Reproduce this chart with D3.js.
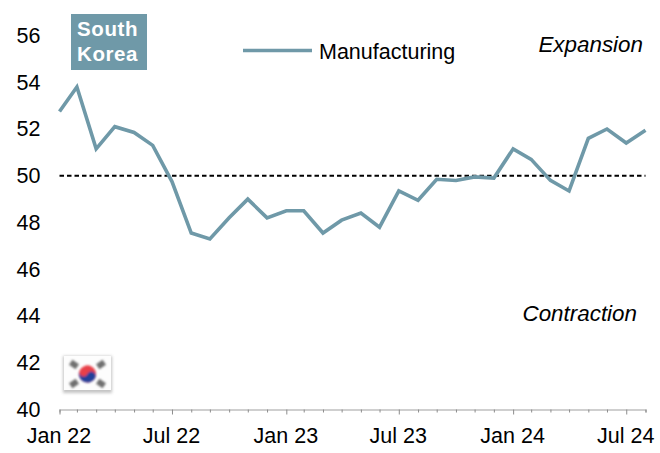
<!DOCTYPE html>
<html>
<head>
<meta charset="utf-8">
<script src="https://cdn.jsdelivr.net/npm/d3@7"></script>
<style>
  body { margin: 0; background: #fff; }
  svg { display: block; }
  text { font-family: "Liberation Sans", Arial, sans-serif; }
</style>
</head>
<body>
<div id="chart"></div>
<script>
// month-end dates, Jan 22 to Aug 24
let months = d3.range(0, 32).map(function(i) {
  return new Date(Date.UTC(2022, i + 1, 0));
});

let manufacturing = [
  52.75, 53.8, 51.15, 52.1, 51.85, 51.3, 49.75, 47.55, 47.3, 48.2, 49.0, 48.2,
  48.5, 48.5, 47.55, 48.1, 48.4, 47.8, 49.35, 48.95, 49.85, 49.8, 49.95, 49.9,
  51.15, 50.7, 49.8, 49.35, 51.6, 52.0, 51.4, 51.95
];

let yTicks = [40, 42, 44, 46, 48, 50, 52, 54, 56];
let xLabelEvery = 6;
let threshold = 50;

let seriesName = "Manufacturing";
let countryLines = ["South", "Korea"];
let expansionLabel = "Expansion";
let contractionLabel = "Contraction";

let lineColor = "#6f99a8";
let fontSize = "21.5";
let italicSize = "22.4";

let width = 660, height = 453;

let svg = d3.select("#chart").append("svg")
  .attr("width", width)
  .attr("height", height);

let x = d3.scaleUtc()
  .domain([months[0], months[months.length - 1]])
  .range([59.5, 645.5]);

let y = d3.scaleLinear()
  .domain([40, 56])
  .range([409.5, 35.5]);

let formatMonth = d3.utcFormat("%b %y");

// y labels only, the axis line and ticks are hidden in the original
let yAxis = svg.append("g")
  .attr("transform", "translate(59.5,0)")
  .call(d3.axisLeft(y).tickValues(yTicks).tickSize(0).tickPadding(19));
yAxis.select(".domain").remove();
yAxis.selectAll("text")
  .attr("font-size", fontSize)
  .attr("fill", "#000");

// x axis: every month gets a tick, every sixth a longer one and a label
let xAxis = svg.append("g")
  .attr("transform", "translate(0,409.5)")
  .call(d3.axisBottom(x)
    .tickValues(months)
    .tickSizeOuter(0)
    .tickSize(3)
    .tickPadding(15)
    .tickFormat(function(d, i) { return i % xLabelEvery === 0 ? formatMonth(d) : ""; }));
xAxis.select(".domain").attr("stroke", "#a0a0a0").attr("stroke-width", 1.2);
xAxis.selectAll(".tick line")
  .attr("stroke", "#8c8c8c")
  .attr("y2", function(d, i) { return i % xLabelEvery === 0 ? 5 : 3; });
xAxis.selectAll("text")
  .attr("font-size", fontSize)
  .attr("dx", "-1")
  .attr("fill", "#000");

// 50 line
svg.append("line")
  .attr("x1", x.range()[0])
  .attr("x2", x.range()[1])
  .attr("y1", y(threshold))
  .attr("y2", y(threshold))
  .attr("stroke", "#000")
  .attr("stroke-width", 1.8)
  .attr("stroke-dasharray", "4.5 3");

let line = d3.line()
  .x(function(d, i) { return x(months[i]); })
  .y(function(d) { return y(d); });

svg.append("path")
  .datum(manufacturing)
  .attr("d", line)
  .attr("fill", "none")
  .attr("stroke", lineColor)
  .attr("stroke-width", 3.6);

// legend
svg.append("line")
  .attr("x1", 243)
  .attr("x2", 312)
  .attr("y1", 50.5)
  .attr("y2", 50.5)
  .attr("stroke", lineColor)
  .attr("stroke-width", 3.6);

svg.append("text")
  .attr("x", 319)
  .attr("y", 59)
  .attr("font-size", fontSize)
  .attr("fill", "#000")
  .text(seriesName);

// regime labels
svg.append("text")
  .attr("x", 643)
  .attr("y", 51.5)
  .attr("text-anchor", "end")
  .attr("font-size", italicSize)
  .attr("font-style", "italic")
  .text(expansionLabel);

svg.append("text")
  .attr("x", 637)
  .attr("y", 320.5)
  .attr("text-anchor", "end")
  .attr("font-size", italicSize)
  .attr("font-style", "italic")
  .text(contractionLabel);

// country tag
svg.append("rect")
  .attr("x", 71)
  .attr("y", 14)
  .attr("width", 76)
  .attr("height", 56)
  .attr("fill", lineColor);

svg.selectAll(".tag")
  .data(countryLines)
  .enter().append("text")
  .attr("class", "tag")
  .attr("x", 77)
  .attr("y", function(d, i) { return 35.5 + i * 25; })
  .attr("font-size", "20.5")
  .attr("font-weight", "bold")
  .attr("letter-spacing", "0.6")
  .attr("fill", "#fff")
  .text(function(d) { return d; });

drawFlag(svg, 63, 355);

// small blurry flag icon, 49 wide and 37 tall
function drawFlag(svg, left, top) {
  let defs = svg.append("defs");
  defs.append("filter").attr("id", "soft")
    .attr("x", "-20%").attr("y", "-20%").attr("width", "140%").attr("height", "140%")
    .append("feGaussianBlur").attr("stdDeviation", 0.8);
  defs.append("filter").attr("id", "shadow")
    .attr("x", "-20%").attr("y", "-20%").attr("width", "140%").attr("height", "140%")
    .append("feGaussianBlur").attr("stdDeviation", 1.4);

  let g = svg.append("g")
    .attr("transform", "translate(" + left + "," + top + ")");

  g.append("rect")
    .attr("x", 0).attr("y", 1).attr("width", 49).attr("height", 37)
    .attr("fill", "#c4c4c4")
    .attr("filter", "url(#shadow)");
  g.append("rect")
    .attr("x", 1).attr("y", 1).attr("width", 47).attr("height", 34)
    .attr("fill", "#fdfdfd");

  let flag = g.append("g").attr("filter", "url(#soft)");
  let cx = 24.5, cy = 19, r = 8.6;

  let taegeuk = flag.append("g")
    .attr("transform", "rotate(25," + cx + "," + cy + ")");
  taegeuk.append("circle").attr("cx", cx).attr("cy", cy).attr("r", r).attr("fill", "#e8404a");
  // lower half with the s-curve
  taegeuk.append("path")
    .attr("d", "M" + (cx - r) + "," + cy +
      " A" + (r / 2) + "," + (r / 2) + " 0 0 0 " + cx + "," + cy +
      " A" + (r / 2) + "," + (r / 2) + " 0 0 1 " + (cx + r) + "," + cy +
      " A" + r + "," + r + " 0 0 1 " + (cx - r) + "," + cy + "Z")
    .attr("fill", "#23409a");

  // the four trigram blocks
  [[-1, -1], [1, -1], [-1, 1], [1, 1]].forEach(function(s) {
    flag.append("rect")
      .attr("x", cx + s[0] * 13.5 - 4)
      .attr("y", cy + s[1] * 9.5 - 3)
      .attr("width", 8)
      .attr("height", 6)
      .attr("fill", "#707070")
      .attr("transform", "rotate(" + (s[0] * s[1] * 35) + "," + (cx + s[0] * 13.5) + "," + (cy + s[1] * 9.5) + ")");
  });
}
</script>
</body>
</html>
